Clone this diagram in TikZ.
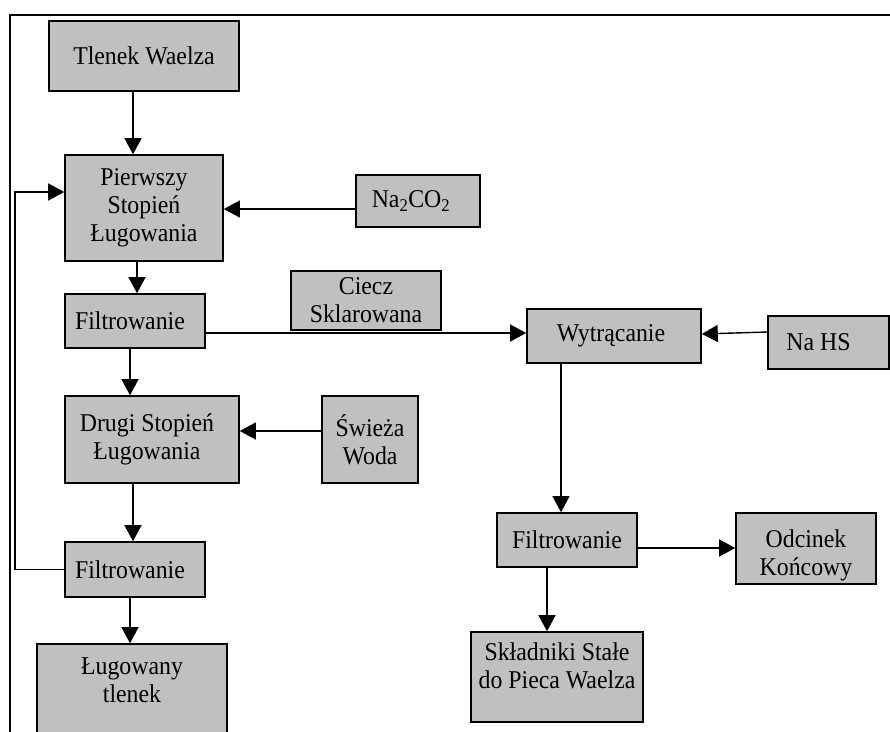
\documentclass[tikz,border=0pt]{standalone}
\usepackage{fontspec}
\setmainfont{Liberation Serif}[FakeStretch=0.93]
\usetikzlibrary{arrows.meta}
\definecolor{boxgray}{HTML}{C0C0C0}
\begin{document}
\begin{tikzpicture}[x=1pt,y=-1pt,
  blk/.style={draw, line width=1.6pt, fill=boxgray, inner sep=0pt, align=center,
              font=\fontsize{25.6}{28}\selectfont},
  arr/.style={line width=1.4pt, -{Triangle[length=16pt,width=17pt]}},
  frame/.style={line width=2.4pt}]
\clip (0,0) rectangle (890,731);

% page frame (top and left edges)
\draw[frame] (10,740) -- (10,15) -- (895,15);

% left column
\node[blk, minimum width=190pt, minimum height=70pt] (tlenek) at (144,56) {Tlenek Waelza};
\node[blk, minimum width=158pt, minimum height=106pt] (p1) at (144,208) {Pierwszy\\Stopień\\Ługowania};
\node[blk, minimum width=140pt, minimum height=54pt] (f1) at (135,321) {Filtrowanie\hspace*{10pt}};
\node[blk, minimum width=174pt, minimum height=87pt] (dsl) at (152,439.5) {Drugi Stopień\hspace*{10pt}\\Ługowania\hspace*{10pt}};
\node[blk, minimum width=140pt, minimum height=55pt] (f3) at (135,569.5) {Filtrowanie\hspace*{10pt}};
\node[blk, minimum width=190pt, minimum height=131pt] (lt) at (132,709.5)
  {\parbox[c][131pt][t]{190pt}{\centering\vspace*{14pt}Ługowany\\tlenek}};

% middle column
\node[blk, minimum width=124pt, minimum height=52pt] (na2) at (418,201) {Na\textsubscript{2}CO\textsubscript{2}\hspace*{14pt}};
\node[blk, minimum width=150pt, minimum height=59pt] (ciecz) at (366,300.5) {Ciecz\\Sklarowana};
\node[blk, minimum width=96pt, minimum height=87pt] (sw) at (370,439.5) {Świeża\\Woda};

% right column
\node[blk, minimum width=174pt, minimum height=54pt] (wyt) at (614,336) {Wytrącanie\hspace*{6pt}};
\node[blk, minimum width=121pt, minimum height=53pt] (nahs) at (828.5,342.5) {Na HS\hspace*{20pt}};
\node[blk, minimum width=140pt, minimum height=54pt] (f2) at (567,540) {Filtrowanie};
\node[blk, minimum width=140pt, minimum height=71pt] (odc) at (806,548.5)
  {\parbox[c][71pt][t]{140pt}{\centering\vspace*{17pt}Odcinek\\Końcowy}};
\node[blk, minimum width=172pt, minimum height=90pt] (skl) at (557,677)
  {\parbox[c][90pt][t]{172pt}{\centering\vspace*{11pt}Składniki Stałe\\do Pieca Waelza}};

% return line from the second filtration back to the first leaching stage
\coordinate (fb) at (15,0);

% connectors
\draw[arr] ([xshift=-11pt]tlenek.south) -- ([xshift=-11pt]tlenek.south |- p1.north);
\draw[arr] ([xshift=-7pt]p1.south) -- ([xshift=-7pt]p1.south |- f1.north);
\draw[arr] ([yshift=-8pt]na2.west) -- ([yshift=-8pt]na2.west -| p1.east);
\draw[arr] ([yshift=-12pt]f1.east) -- ([yshift=-12pt]f1.east -| wyt.west);
\draw[arr] ([yshift=10.5pt]nahs.west) -- ([yshift=2pt]wyt.east);
\draw[arr] ([xshift=-53pt]wyt.south) -- ([xshift=-53pt]wyt.south |- f2.north);
\draw[arr] ([yshift=-8pt]f2.east) -- ([yshift=-8pt]f2.east -| odc.west);
\draw[arr] ([xshift=-20pt]f2.south) -- ([xshift=-20pt]f2.south |- skl.north);
\draw[arr] ([xshift=-5pt]f1.south) -- ([xshift=-5pt]f1.south |- dsl.north);
\draw[arr] ([yshift=8.5pt]sw.west) -- ([yshift=8.5pt]sw.west -| dsl.east);
\draw[arr] ([xshift=-19pt]dsl.south) -- ([xshift=-19pt]dsl.south |- f3.north);
\draw[arr] ([xshift=-5pt]f3.south) -- ([xshift=-5pt]f3.south |- lt.north);
\draw[arr] (f3.west) -- (f3.west -| fb) |- ([yshift=16pt]p1.west);
\end{tikzpicture}
\end{document}
